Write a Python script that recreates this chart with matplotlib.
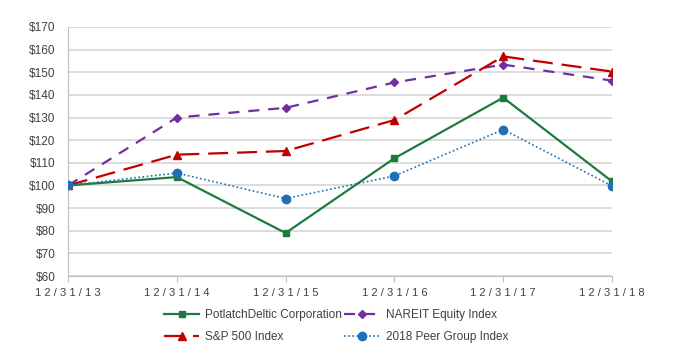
import matplotlib
matplotlib.use("Agg")
import matplotlib.pyplot as plt

# ---- data ----
dates = ["12/31/13", "12/31/14", "12/31/15", "12/31/16", "12/31/17", "12/31/18"]
potlatch = [100, 103.7, 79, 112, 138.8, 101.8]
nareit = [100, 130, 134.3, 145.5, 153.4, 146.3]
sp500 = [100, 113.6, 115.2, 128.9, 157, 150.3]
peer = [100, 105.5, 94.2, 104.2, 124.7, 99.8]
y_ticks = list(range(60, 171, 10))

plt.rcParams['font.family'] = ['Liberation Sans', 'DejaVu Sans']

fig = plt.figure(figsize=(6.82, 3.56), dpi=100)
ax = fig.add_axes([68 / 682, 1 - 276 / 356, (612 - 68) / 682, (276 - 27) / 356])

x = list(range(len(dates)))
ax.plot(x, potlatch, color='#1E7B3F', lw=1.6, marker='s', ms=4.5,
        label='PotlatchDeltic Corporation', zorder=4)
ax.plot(x, nareit, color='#7030A0', lw=1.6, ls=(0, (5, 4)), marker='D', ms=4.2,
        label='NAREIT Equity Index', zorder=3)
ax.plot(x, sp500, color='#C00000', lw=1.6, ls=(0, (9, 4)), marker='^', ms=6,
        label='S&P 500 Index', zorder=3)
ax.plot(x, peer, color='#1F6FB5', lw=1.2, ls=(0, (1, 1.5)), marker='o', ms=6,
        label='2018 Peer Group Index', zorder=5)

ax.set_xlim(0, len(dates) - 1)
ax.set_ylim(60, 170)
ax.set_yticks(y_ticks)
ax.set_yticklabels([f"${v}" for v in y_ticks], fontsize=8.5, color='#404040')
ax.set_xticks(x)
ax.set_xticklabels([" ".join(d) for d in dates], fontsize=8, color='#404040')

ax.grid(axis='y', color='#D9D9D9', lw=1.3)
ax.set_axisbelow(True)
for side in ['top', 'right']:
    ax.spines[side].set_visible(False)
for side in ['left', 'bottom']:
    ax.spines[side].set_color('#BFBFBF')
ax.tick_params(axis='y', length=0, pad=9)
ax.tick_params(axis='x', length=4, color='#BFBFBF', pad=5)

handles, labels = ax.get_legend_handles_labels()
order = [0, 2, 1, 3]
leg = fig.legend([handles[i] for i in order], [labels[i] for i in order],
                 ncol=2, loc='center', bbox_to_anchor=(336 / 682, 1 - 326 / 356),
                 frameon=False, fontsize=8.5, handlelength=3.0, columnspacing=0.2,
                 labelspacing=0.85, handletextpad=0.5)
for t in leg.get_texts():
    t.set_color('#404040')

fig.savefig("out.png", dpi=100)
